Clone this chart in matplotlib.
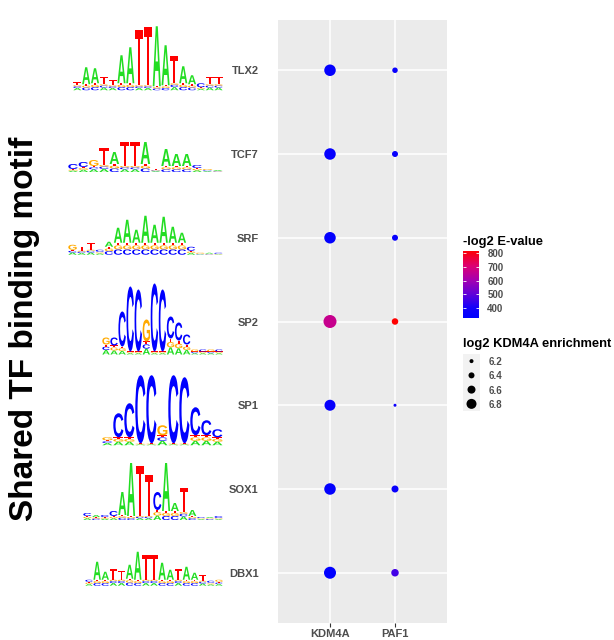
import numpy as np
import matplotlib
matplotlib.use("Agg")
import matplotlib.pyplot as plt
from matplotlib.textpath import TextPath
from matplotlib.patches import PathPatch
from matplotlib.font_manager import FontProperties
from matplotlib.transforms import Affine2D
from matplotlib.colors import LinearSegmentedColormap, Normalize

plt.rcParams["font.family"] = ["Liberation Sans", "DejaVu Sans"]

W, H = 614, 640

# ---- data ----
motifs = ["TLX2", "TCF7", "SRF", "SP2", "SP1", "SOX1", "DBX1"]   # top to bottom
samples = ["KDM4A", "PAF1"]
evalue_kdm4a = [340, 345, 335, 660, 350, 335, 327]
evalue_paf1 = [360, 355, 350, 815, 370, 360, 460]
enrich_kdm4a = [6.95, 6.95, 6.95, 7.1, 6.9, 6.95, 7.0]
enrich_paf1 = [6.35, 6.4, 6.4, 6.45, 6.1, 6.5, 6.55]
evalue_ticks = [400, 500, 600, 700, 800]
evalue_lim = (327, 815)
size_ticks = [6.2, 6.4, 6.6, 6.8]

# sequence logos: consensus letter, its height, height of the small stack below (px)
logo_letters = {
    "TLX2": "TAATTAATTAATAACTT",
    "TCF7": "CCGTATTATAAACGA",
    "SRF": "GTTCAAAAAAAAACGAC",
    "SP2": "GCCCCGCCCCCGCGC",
    "SP1": "GCCCCGCCCCC",
    "SOX1": "CACCAATTCAATACAC",
    "DBX1": "CAATTAATTAATAATCG",
}
logo_top = {
    "TLX2": [3, 17, 15, 7, 5, 28, 36, 55, 58, 60, 40, 27, 17, 9, 4, 7, 7],
    "TCF7": [5, 5, 6, 17, 12, 24, 24, 22, 1, 17, 12, 12, 3, 1, 1],
    "SRF": [5, 4, 7, 2, 5, 15, 23, 13, 27, 18, 26, 16, 10, 4, 1, 1, 1],
    "SP2": [7, 8, 35, 65, 62, 22, 68, 62, 22, 18, 10, 2, 2, 2, 2],
    "SP1": [3, 24, 34, 68, 68, 10, 68, 66, 28, 15, 8],
    "SOX1": [3, 2, 2, 5, 23, 53, 50, 41, 18, 48, 8, 24, 6, 1, 1, 2],
    "DBX1": [2, 18, 8, 11, 9, 14, 28, 25, 25, 17, 10, 11, 13, 7, 6, 2, 2],
}
logo_rest = {
    "TLX2": [5, 6, 7, 6, 5, 7, 7, 5, 5, 4, 5, 7, 7, 6, 3, 6, 6],
    "TCF7": [3, 5, 6, 7, 8, 6, 6, 8, 2, 6, 6, 6, 4, 2, 1],
    "SRF": [5, 4, 5, 3, 8, 12, 12, 12, 12, 12, 12, 12, 12, 4, 1, 1, 1],
    "SP2": [10, 9, 8, 3, 3, 13, 3, 3, 16, 14, 10, 3, 3, 3, 3],
    "SP1": [5, 8, 8, 2, 2, 10, 2, 2, 10, 10, 8],
    "SOX1": [4, 3, 3, 4, 5, 4, 4, 4, 10, 9, 9, 8, 4, 2, 2, 2],
    "DBX1": [4, 6, 6, 6, 6, 7, 6, 6, 6, 6, 6, 6, 6, 6, 5, 3, 4],
}
logo_left = {"TLX2": 73, "TCF7": 68, "SRF": 68, "SP2": 102, "SP1": 102, "SOX1": 83, "DBX1": 85}
logo_right = 223
logo_base_offset = {"TLX2": 20, "TCF7": 18, "SRF": 17, "SP2": 33, "SP1": 40, "SOX1": 31, "DBX1": 13}
letter_colors = {"A": "#22DD22", "C": "#0000FF", "G": "#FFAA00", "T": "#FF0000"}

# blue -> red gradient as it appears in the legend bar
cmap = LinearSegmentedColormap.from_list(
    "e_value",
    [(0.0, "#0000FF"), (0.15, "#1400FA"), (0.355, "#6200D8"),
     (0.56, "#A600B0"), (0.764, "#DC0075"), (1.0, "#FF0000")])
norm = Normalize(*evalue_lim)


def size_pts(v):
    d_px = 4 + (np.asarray(v) - 6.2) * 10      # dot diameter in pixels
    return (d_px * 0.72) ** 2


def px_axes(left, top, right, bottom, **kw):
    return fig.add_axes([left / W, 1 - bottom / H, (right - left) / W, (bottom - top) / H], **kw)


fig = plt.figure(figsize=(W / 100, H / 100), dpi=100)

# ---- dot plot panel ----
ax = px_axes(278, 20, 447, 623)
ax.set_facecolor("#EBEBEB")
ypos = np.arange(len(motifs))[::-1]
for j, (ev, en) in enumerate([(evalue_kdm4a, enrich_kdm4a), (evalue_paf1, enrich_paf1)]):
    ax.scatter(np.full(len(motifs), j), ypos, s=size_pts(en), c=ev, cmap=cmap, norm=norm,
               edgecolors="none", zorder=3)
ax.set_xlim(-0.8, 1.8)
ax.set_ylim(-0.6, len(motifs) - 0.4)
ax.set_xticks(range(len(samples)), samples)
ax.set_yticks(ypos, motifs)
ax.grid(color="white", linewidth=1.1)
ax.set_axisbelow(True)
for sp in ax.spines.values():
    sp.set_visible(False)
ax.tick_params(axis="x", length=2.75, width=0.8, color="#333333", pad=1.5,
               labelsize=8, labelcolor="#4D4D4D")
ax.tick_params(axis="y", length=0, pad=14, labelsize=8, labelcolor="#4D4D4D")
for lab in ax.get_xticklabels() + ax.get_yticklabels():
    lab.set_fontweight("bold")

fig.text(25 / W, 1 - 329 / H, "Shared TF binding motif", rotation=90, ha="center", va="center",
         fontsize=24, fontweight="bold", color="black")

# ---- sequence logos ----
lax = fig.add_axes([0, 0, 1, 1], zorder=-1)
lax.set_xlim(0, W)
lax.set_ylim(H, 0)
lax.axis("off")
fp = FontProperties(family="Liberation Sans", weight="bold")
glyphs = {c: TextPath((0, 0), c, size=100, prop=fp) for c in "ACGT"}


def draw_letter(c, x, base, w, h):
    if h <= 0:
        return
    p = glyphs[c]
    bb = p.get_extents()
    tr = Affine2D().translate(-bb.x0, -bb.y0).scale(w / bb.width, -h / bb.height).translate(x, base)
    lax.add_patch(PathPatch(tr.transform_path(p), facecolor=letter_colors[c], lw=0))


for i, m in enumerate(motifs):
    cat_y = H - ax.transData.transform((0, ypos[i]))[1]
    base = cat_y + logo_base_offset[m]
    letters = logo_letters[m]
    step = (logo_right - logo_left[m]) / len(letters)
    for k, c in enumerate(letters):
        x = logo_left[m] + k * step
        y = base
        others = [o for o in "ACGT" if o != c]
        for o, frac in zip(others, [0.45, 0.33, 0.22]):
            hh = logo_rest[m][k] * frac
            draw_letter(o, x + 0.3, y, step * 0.92, hh)
            y -= hh
        draw_letter(c, x + 0.3, y, step * 0.92, logo_top[m][k])

# ---- colour legend ----
fig.text(463 / W, 1 - 242 / H, "-log2 E-value", fontsize=9.3, fontweight="bold", va="center")
cax = px_axes(463, 251, 479, 318)
cax.imshow(np.linspace(*evalue_lim, 300)[:, None], cmap=cmap, norm=norm, aspect="auto",
           origin="lower", extent=(0, 1, *evalue_lim), interpolation="bilinear")
cax.set_xticks([])
cax.set_yticks(evalue_ticks)
cax.yaxis.tick_right()
cax.tick_params(axis="y", direction="in", length=2.5, width=0.6, color="white", left=True,
                right=True, pad=6, labelsize=7, labelcolor="#4D4D4D")
for lab in cax.get_yticklabels():
    lab.set_fontweight("bold")
for sp in cax.spines.values():
    sp.set_visible(False)

# ---- size legend ----
fig.text(463 / W, 1 - 344 / H, "log2 KDM4A enrichment", fontsize=9.3, fontweight="bold", va="center")
sax = px_axes(463, 354, 480, 411)
sax.set_facecolor("#F2F2F2")
sax.scatter(np.zeros(len(size_ticks)), np.arange(len(size_ticks)), s=size_pts(size_ticks),
            color="black", edgecolors="none")
sax.set_xlim(-0.5, 0.5)
sax.set_ylim(len(size_ticks) - 0.5, -0.5)
sax.set_xticks([])
sax.set_yticks(range(len(size_ticks)), [f"{v:.1f}" for v in size_ticks])
sax.yaxis.tick_right()
sax.tick_params(axis="y", length=0, pad=6, labelsize=7, labelcolor="#4D4D4D")
for lab in sax.get_yticklabels():
    lab.set_fontweight("bold")
for sp in sax.spines.values():
    sp.set_visible(False)

fig.savefig("out.png", dpi=100, facecolor="white")
